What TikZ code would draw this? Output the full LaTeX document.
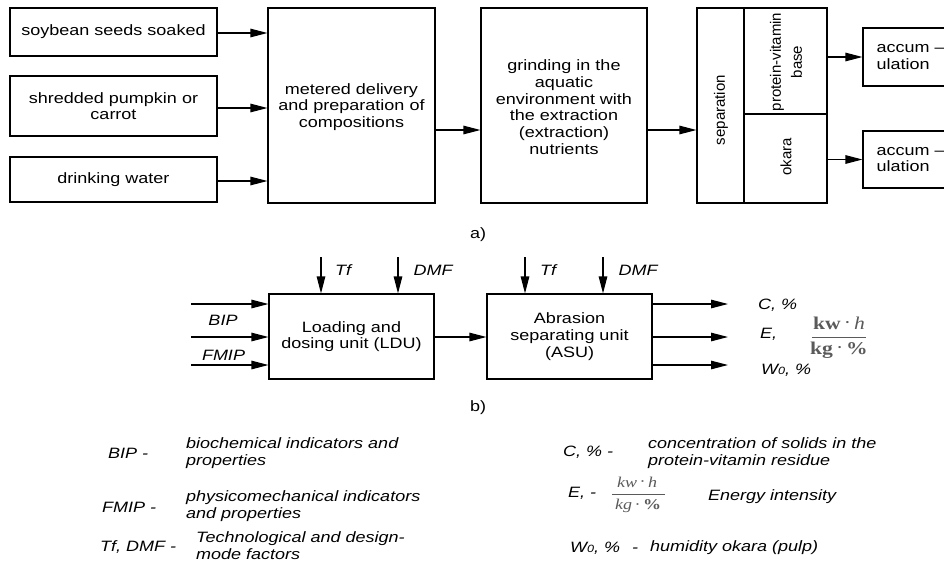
\documentclass[tikz,border=0pt]{standalone}
\usepackage{fontspec}
\setmainfont[FakeStretch=1.2]{Liberation Sans}
\newfontfamily\plainsans{Liberation Sans}
\newfontfamily\fracserif[FakeStretch=1.2]{Liberation Serif}
\usetikzlibrary{arrows.meta,calc}
\definecolor{fracgray}{HTML}{5A5A5A}
\newcommand{\zerosub}{{\fontsize{10.5}{10.5}\selectfont 0}}
\newcommand{\mdot}{\,\raisebox{0.5pt}{·}\,}
\begin{document}
\begin{tikzpicture}[x=1pt,y=-1pt,
  every node/.style={font=\fontsize{15}{16.7}\selectfont, inner sep=0pt},
  box/.style={draw, line width=1.1pt, align=center},
  arr/.style={line width=1.1pt, -{Triangle[length=17pt,width=8.5pt]}},
  lab/.style={font=\fontsize{15}{16.7}\selectfont\itshape, anchor=west},
  legtxt/.style={font=\fontsize{15}{17}\selectfont\itshape, anchor=west, align=left},
  rottxt/.style={rotate=90, font=\plainsans\fontsize{15}{21}\selectfont, align=center},
  fracn/.style={text=fracgray, font=\fracserif\fontsize{18}{18}\selectfont},
  fracbar/.style={draw=fracgray, line width=1pt}]
\useasboundingbox (0,0) rectangle (944,584);
\clip (0,0) rectangle (944,584);

% ---------- part a) ----------
\node[box, minimum width=207pt, minimum height=48pt] (s1) at (113.5,32) {soybean seeds soaked};
\node[box, minimum width=207pt, minimum height=60pt] (s2) at (113.5,106) {shredded pumpkin or\\carrot};
\node[box, minimum width=207pt, minimum height=45pt] (s3) at (113.5,179.5) {drinking water};
\node[box, minimum width=167pt, minimum height=195pt] (m) at (351.5,105.5) {};
\node[align=center] (mtxt) at (351.5,107) {metered delivery\\and preparation of\\compositions};
\node[box, minimum width=166pt, minimum height=195pt] (g) at (564,105.5) {};
\node[align=center] (gtxt) at (564,107) {grinding in the\\aquatic\\environment with\\the extraction\\(extraction)\\nutrients};
\node[box, minimum width=47pt, minimum height=195pt] (sepL) at (720.5,105.5) {};
\node[box, minimum width=83pt, minimum height=106pt] (pvb) at (785.5,61) {};
\node[box, minimum width=83pt, minimum height=89pt] (ok) at (785.5,158.5) {};
\node[rottxt] (septxt) at (721,110) {separation};
\node[rottxt] (pvbtxt) at (786,62) {protein-vitamin\\base};
\node[rottxt] (oktxt) at (786,157) {okara};
\node[box, minimum width=86pt, minimum height=58pt] (acc1) at (906,57) {};
\node[box, minimum width=86pt, minimum height=57pt] (acc2) at (906,159.5) {};
\node[anchor=west, align=left] (acc1txt) at ($(acc1.west)+(14,0)$) {accum –\\ulation};
\node[anchor=west, align=left] (acc2txt) at ($(acc2.west)+(14,0)$) {accum –\\ulation};

\draw[arr] ($(s1.east)+(0,1)$) -- ($(s1.east -| m.west)+(0,1)$);
\draw[arr] ($(s2.east)+(0,2)$) -- ($(s2.east -| m.west)+(0,2)$);
\draw[arr] ($(s3.east)+(0,1.5)$) -- ($(s3.east -| m.west)+(0,1.5)$);
\draw[arr] ($(m.east)+(0,24.5)$) -- ($(g.west)+(0,24.5)$);
\draw[arr] ($(g.east)+(0,24.5)$) -- ($(sepL.west)+(0,24.5)$);
\draw[arr] (pvb.east |- acc1.west) -- (acc1.west);
\draw[arr] (ok.east |- acc2.west) -- (acc2.west);

\node (la) at (478,235) {a)};

% ---------- part b) ----------
\node[box, minimum width=165pt, minimum height=85pt] (ldu) at (351.5,336.5) {Loading and\\dosing unit (LDU)};
\node[box, minimum width=165pt, minimum height=85pt] (asu) at (569.5,336.5) {Abrasion\\separating unit\\(ASU)};

\coordinate (in1) at (191,304);
\coordinate (in2) at (191,337);
\coordinate (in3) at (191,365);
\draw[arr] (in1) -- (in1 -| ldu.west);
\draw[arr] (in2) -- (in2 -| ldu.west);
\draw[arr] (in3) -- (in3 -| ldu.west);
\node[font=\fontsize{15}{16.7}\selectfont\itshape] (bip) at (223,320) {BIP};
\node[font=\fontsize{15}{16.7}\selectfont\itshape] (fmip) at (223.5,355) {FMIP};

\coordinate (t1) at (321,257);
\coordinate (d1) at (398,257);
\coordinate (t2) at (525,257);
\coordinate (d2) at (603,257);
\draw[arr] (t1) -- (t1 |- ldu.north);
\draw[arr] (d1) -- (d1 |- ldu.north);
\draw[arr] (t2) -- (t2 |- asu.north);
\draw[arr] (d2) -- (d2 |- asu.north);
\node[font=\fontsize{15}{16.7}\selectfont\itshape] (tf1) at (343,270) {Tf};
\node[font=\fontsize{15}{16.7}\selectfont\itshape] (dmf1) at (433,270) {DMF};
\node[font=\fontsize{15}{16.7}\selectfont\itshape] (tf2) at (548,270) {Tf};
\node[font=\fontsize{15}{16.7}\selectfont\itshape] (dmf2) at (638,270) {DMF};

\draw[arr] (ldu.east |- in2) -- (asu.west |- in2);

\coordinate (o1) at (728,304);
\coordinate (o2) at (728,337);
\coordinate (o3) at (728,365);
\draw[arr] (asu.east |- o1) -- (o1);
\draw[arr] (asu.east |- o2) -- (o2);
\draw[arr] (asu.east |- o3) -- (o3);
\node[lab] (oc) at (758,305) {C, \%};
\node[lab] (oe) at (760,334) {E,};
\node[lab] (ow) at (761,370) {W\zerosub, \%};
% output fraction
\node[fracn] (ofn) at (839,323) {\textbf{kw}\mdot\textit{h}};
\node[fracn] (ofd) at (839,350) {\textbf{kg}\mdot\textbf{\%}};
\coordinate (ofl) at (812,337.5);
\coordinate (ofr) at (866,337.5);
\draw[fracbar] (ofl) -- (ofr);

\node (lb) at (478,408) {b)};

% ---------- legend ----------
\node[lab] (kbip) at (108,453) {BIP -};
\node[legtxt] (vbip) at (186,453.5) {biochemical indicators and\\properties};
\node[lab] (kfmip) at (102,507) {FMIP -};
\node[legtxt] (vfmip) at (186,506) {physicomechanical indicators\\and properties};
\node[lab] (ktf) at (100,547) {Tf, DMF -};
\node[legtxt] (vtf) at (196,546) {Technological and design-\\mode factors};

\node[lab] (kc) at (563,452) {C, \% -};
\node[legtxt] (vc) at (648,453.5) {concentration of solids in the\\protein-vitamin residue};
\node[lab] (ke) at (568,493) {E, -};
% legend fraction
\node[fracn, font=\fracserif\fontsize{15}{15}\selectfont] (kfn) at (637,482) {\textit{kw}\mdot\textit{h}};
\node[fracn, font=\fracserif\fontsize{15}{15}\selectfont] (kfd) at (638,506) {\textit{kg}\mdot\textbf{\%}};
\coordinate (kfl) at (612,494);
\coordinate (kfr) at (665,494);
\draw[fracbar] (kfl) -- (kfr);
\node[legtxt] (ve) at (708,497) {Energy intensity};
\node[lab] (kw) at (570,548) {W\zerosub, \%\hspace{12pt}-};
\node[legtxt] (vw) at (650,548) {humidity okara (pulp)};
\end{tikzpicture}
\end{document}
